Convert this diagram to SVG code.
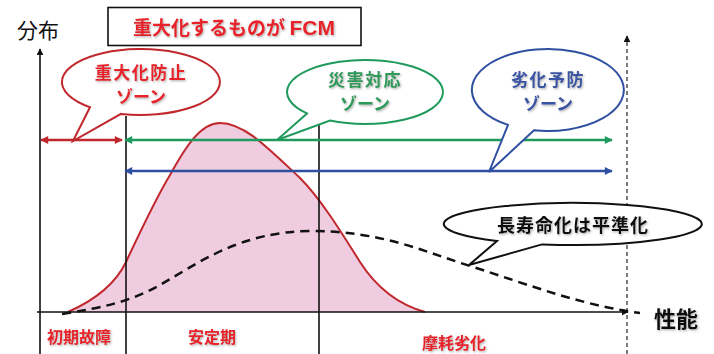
<svg xmlns="http://www.w3.org/2000/svg" width="714" height="354" viewBox="0 0 714 354">
<defs>
<style>
.jp{font-family:"Noto Sans CJK JP","Noto Sans",sans-serif;font-weight:bold;text-anchor:middle}
.ax{stroke:#111;stroke-width:1.6;fill:none}
.red{fill:#e8232a}
.grn{fill:#2e9a5a}
.blu{fill:#3a55a5}
.blk{fill:#111}
.bub{fill:#fff;stroke-width:2}
</style>
<filter id="sh" x="-10%" y="-20%" width="130%" height="150%">
<feDropShadow dx="1" dy="1.2" stdDeviation="0.8" flood-color="#777" flood-opacity="0.6"/>
</filter>
<marker id="mr" viewBox="0 0 10 10" refX="9" refY="5" markerWidth="9" markerHeight="8" markerUnits="userSpaceOnUse" orient="auto-start-reverse"><path d="M0,0L10,5L0,10Z" fill="#c0282d"/></marker>
<marker id="mg" viewBox="0 0 10 10" refX="9" refY="5" markerWidth="9" markerHeight="8" markerUnits="userSpaceOnUse" orient="auto-start-reverse"><path d="M0,0L10,5L0,10Z" fill="#1f9a5c"/></marker>
<marker id="mb" viewBox="0 0 10 10" refX="9" refY="5" markerWidth="9" markerHeight="8" markerUnits="userSpaceOnUse" orient="auto-start-reverse"><path d="M0,0L10,5L0,10Z" fill="#2f4fa0"/></marker>
<marker id="mk" viewBox="0 0 10 10" refX="9" refY="5" markerWidth="7" markerHeight="7" markerUnits="userSpaceOnUse" orient="auto-start-reverse"><path d="M0,0L10,5L0,10Z" fill="#111"/></marker>
</defs>
<rect width="714" height="354" fill="#fff"/>

<g id="distribution">
<path d="M68,312 C95,300 115,285 126,262 C140,232 155,200 170,175 C185,148 200,123 220,123 C245,123 270,150 300,178 C320,198 340,230 360,262 C378,290 400,305 425,312 Z" fill="#f0cce0" stroke="none"/>
<path d="M68,312 C95,300 115,285 126,262 C140,232 155,200 170,175 C185,148 200,123 220,123 C245,123 270,150 300,178 C320,198 340,230 360,262 C378,290 400,305 425,312" fill="none" stroke="#c0282d" stroke-width="2"/>
</g>

<g id="axes">
<line class="ax" x1="40" y1="354" x2="40" y2="49" marker-end="url(#mk)"/>
<line class="ax" x1="37" y1="312" x2="628" y2="312" marker-end="url(#mk)"/>
<line class="ax" x1="126" y1="116" x2="126" y2="354"/>
<line class="ax" x1="319" y1="111" x2="319" y2="354"/>
<line x1="627" y1="354" x2="627" y2="36" stroke="#111" stroke-width="1.1" stroke-dasharray="4 3" marker-end="url(#mk)"/>
</g>

<g id="longlife-curve">
<path d="M62,314 C100,308 130,302 160,285 C200,262 240,232 310,231 C380,231 420,250 470,266 C530,285 580,305 640,313" fill="none" stroke="#111" stroke-width="2.5" stroke-dasharray="9 6"/>
</g>

<g id="connectors">
<line x1="41" y1="140" x2="122" y2="140" stroke="#c0282d" stroke-width="2.5" marker-start="url(#mr)" marker-end="url(#mr)"/>
<line x1="125" y1="140" x2="612" y2="140" stroke="#1f9a5c" stroke-width="2.5" marker-start="url(#mg)" marker-end="url(#mg)"/>
<line x1="125" y1="171" x2="612" y2="171" stroke="#2f4fa0" stroke-width="2.5" marker-start="url(#mb)" marker-end="url(#mb)"/>
</g>

<g id="title">
<rect x="108" y="7.5" width="253" height="38" fill="#fff" stroke="#111" stroke-width="1.6"/>
<text class="jp red" x="234" y="35" font-size="19" filter="url(#sh)">重大化するものが <tspan font-family="'Liberation Sans',Arial,sans-serif" font-size="21">FCM</tspan></text>
</g>

<g id="label-y">
<text x="38" y="38" font-family="'Noto Sans CJK JP',sans-serif" font-size="21" text-anchor="middle" fill="#111">分布</text>
</g>
<g id="label-x">
<text class="jp blk" x="676" y="327" font-size="22" filter="url(#sh)">性能</text>
</g>

<g id="bubble-severity">
<path class="bub" stroke="#c0282d" d="M121,113.9 A79,33 0 1 0 90,107.2 L73,141 Z"/>
<text class="jp red" x="141" y="79" font-size="17" letter-spacing="1.5" filter="url(#sh)">重大化防止</text>
<text class="jp red" x="141" y="103" font-size="17" filter="url(#sh)">ゾーン</text>
</g>

<g id="bubble-disaster">
<path class="bub" stroke="#1f9a5c" d="M330,120.6 A78,32 0 1 0 307,113.4 L277,140 Z"/>
<text class="jp grn" x="365" y="86" font-size="17" letter-spacing="1.5" filter="url(#sh)">災害対応</text>
<text class="jp grn" x="365" y="110" font-size="17" filter="url(#sh)">ゾーン</text>
</g>

<g id="bubble-prevent">
<path class="bub" stroke="#2f4fa0" d="M534,130.3 A76,41 0 1 0 508,124.9 L489,172 Z"/>
<text class="jp blu" x="548" y="86" font-size="17" letter-spacing="1.5" filter="url(#sh)">劣化予防</text>
<text class="jp blu" x="548" y="110" font-size="17" filter="url(#sh)">ゾーン</text>
</g>

<g id="bubble-longlife">
<path class="bub" stroke="#111" d="M542,244.4 A129,21 0 1 0 497,241 L469,265 Z"/>
<text class="jp blk" x="573" y="232" font-size="18" letter-spacing="1" filter="url(#sh)">長寿命化は平準化</text>
</g>

<g id="phase-labels">
<text class="jp red" x="79" y="343" font-size="16" filter="url(#sh)">初期故障</text>
<text class="jp red" x="212" y="343" font-size="16" filter="url(#sh)">安定期</text>
<text class="jp red" x="454" y="349" font-size="16" filter="url(#sh)">摩耗劣化</text>
</g>
</svg>
